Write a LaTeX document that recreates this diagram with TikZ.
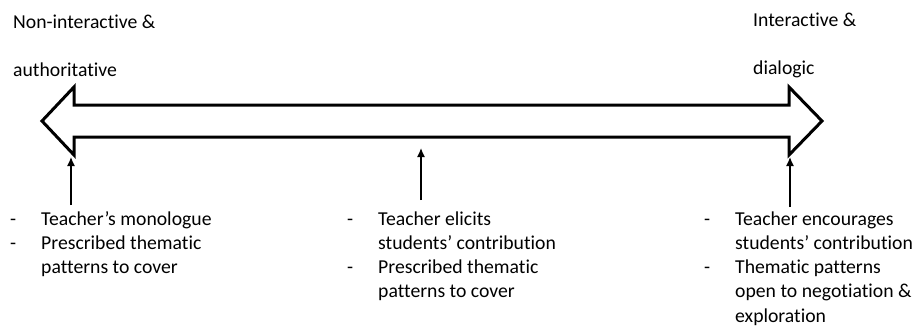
\documentclass[tikz,border=0pt]{standalone}
\usepackage{fontspec}
\setmainfont{Carlito}[Ligatures=NoCommon]
\usetikzlibrary{arrows.meta}
\begin{document}
\begin{tikzpicture}[x=1pt,y=-1pt,
  label text/.style={inner sep=0pt,anchor=base west,font=\fontsize{19.7}{24.3}\selectfont},
  bullets/.style={inner sep=0pt,anchor=base west,font=\fontsize{19.7}{24.3}\selectfont},
  pointer/.style={line width=1.4pt,-{Latex[length=9pt,width=8pt]}},
  spectrum/.style={line width=3pt,line join=miter,miter limit=10}]
\useasboundingbox (0,0) rectangle (916,327);

% end labels of the continuum
\node[label text] (ni1) at (13,28) {Non-interactive \&};
\node[label text] (ni2) at (13,76) {authoritative};
\node[label text] (ia1) at (753,26) {Interactive \&};
\node[label text] (ia2) at (753,74) {dialogic};

% double-headed block arrow
\coordinate (ltip) at (42,121);
\coordinate (lbot) at (74,155);
\coordinate (rtip) at (822,121);
\coordinate (rbot) at (789,155);
\draw[spectrum] (ltip) -- (74,87) -- (74,105) -- (789,105) -- (789,87)
  -- (rtip) -- (rbot) -- (789,137) -- (74,137) -- (lbot) -- cycle;

% descriptions
\newcommand{\bulletlist}[1]{\begin{tabular}[t]{@{}p{31pt}@{}l@{}}#1\end{tabular}}
\node[bullets] (left) at (10,225) {\bulletlist{-&Teacher’s monologue\\-&Prescribed thematic\\&patterns to cover}};
\node[bullets] (centre) at (347,225) {\bulletlist{-&Teacher elicits\\&students’ contribution\\-&Prescribed thematic\\&patterns to cover}};
\node[bullets] (right) at (704,225) {\bulletlist{-&Teacher encourages\\&students’ contribution\\-&Thematic patterns\\&open to negotiation \&\\&exploration}};

% pointers from descriptions to the continuum
\coordinate (lfoot) at (71,205);
\coordinate (mfoot) at (421,200);
\coordinate (rfoot) at (790,207);
\draw[pointer] (lfoot) -- (71,157);
\draw[pointer] (mfoot) -- (421,148);
\draw[pointer] (rfoot) -- (790,157);
\end{tikzpicture}
\end{document}
